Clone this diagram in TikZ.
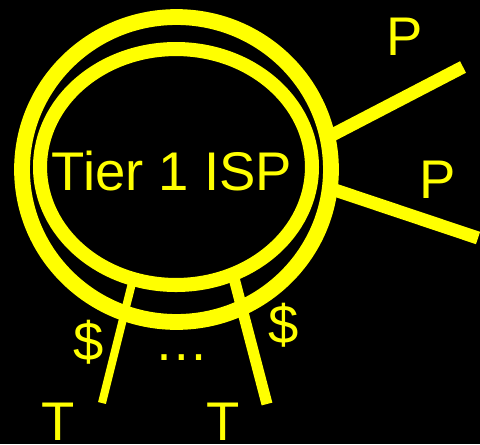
\documentclass[tikz,border=0pt]{standalone}
\usepackage{fontspec}
\setmainfont{Liberation Sans}
\usetikzlibrary{shapes.geometric}
\definecolor{ispyellow}{RGB}{255, 255, 0}

\begin{document}
\begin{tikzpicture}[
  x=0.02cm, y=-0.02cm,
  ring/.style={ellipse, draw=ispyellow, inner sep=0pt, outer sep=0pt},
  word/.style={text=ispyellow, font=\fontsize{31}{36}\selectfont, anchor=base, inner sep=0pt},
  link/.style={draw=ispyellow}
]
  \fill[black] (0, 0) rectangle (480, 444);
  \useasboundingbox (0, 0) rectangle (480, 444);

  \node[ring, line width=9pt, minimum width=6.18cm, minimum height=6.1cm] (outer) at (176.5, 169.5) {};
  \node[ring, line width=8pt, minimum width=5.44cm, minimum height=4.72cm] (inner) at (176, 167) {};
  \node[word] (isp) at (172, 190) {Tier 1 ISP};

  % peers
  \coordinate (peerend1) at (463, 67);
  \coordinate (peerend2) at (478, 238);
  \draw[link, line width=7.4pt] (outer.12) -- (peerend1);
  \draw[link, line width=7.4pt] (outer.-7) -- (peerend2);
  \node[word] (peer1) at (405, 55) {P};
  \node[word] (peer2) at (438, 198) {P};

  % customers
  \coordinate (custend1) at (102, 403);
  \coordinate (custend2) at (267, 404);
  \draw[link, line width=4.6pt] (inner.249) -- (custend1);
  \draw[link, line width=6.3pt] (inner.298) -- (custend2);
  \node[word] (cust1) at (58, 440) {T};
  \node[word] (cust2) at (223, 440) {T};
  \node[word] (pay1) at (89, 360) {\$};
  \node[word] (pay2) at (284, 343) {\$};
  \node[word] (dots) at (182, 360) {…};
\end{tikzpicture}
\end{document}
